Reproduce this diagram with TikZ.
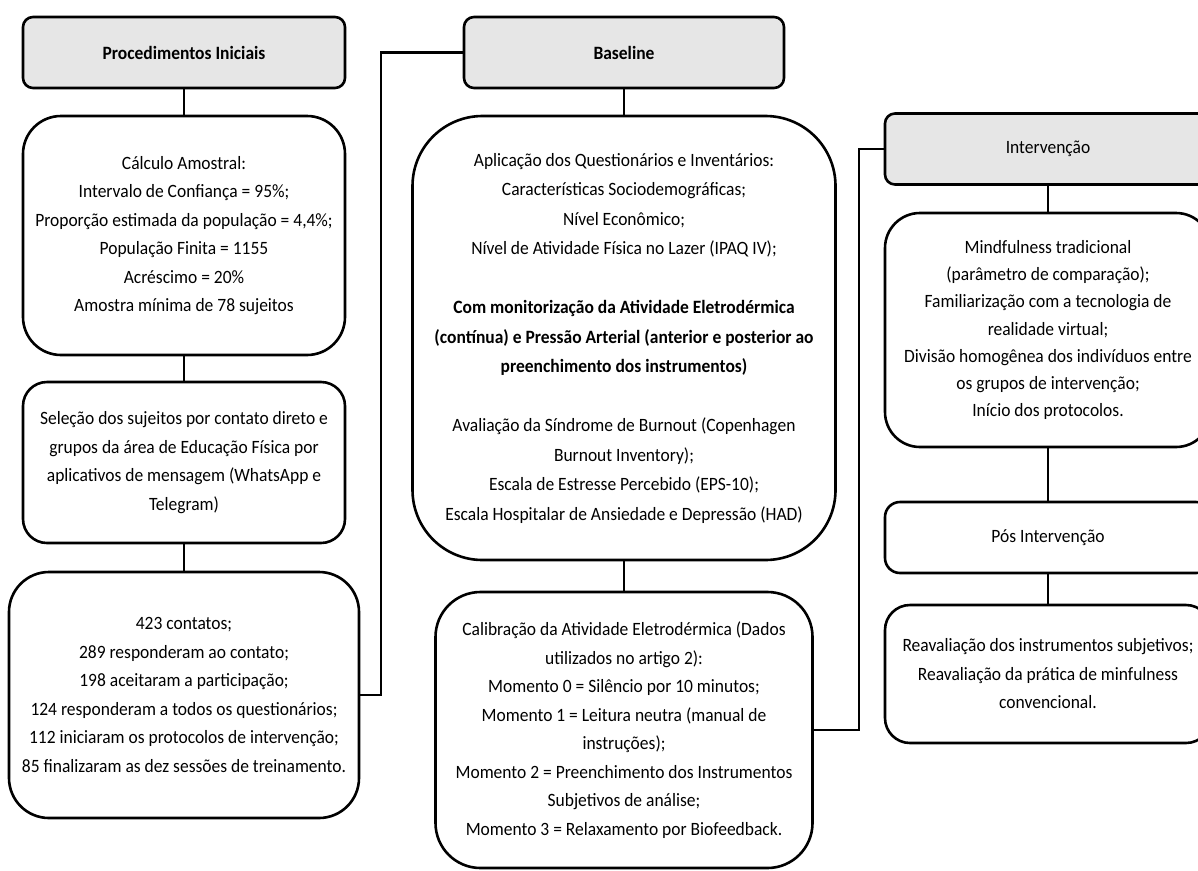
\documentclass[tikz,border=0pt]{standalone}
\usepackage{fontspec}
\setmainfont[FakeStretch=0.93]{Carlito}
\usepackage{tikz}

\definecolor{headgray}{HTML}{E6E6E6}

\begin{document}
\begin{tikzpicture}[x=1pt,y=-1pt]
\useasboundingbox (0,0) rectangle (1198,870);
\clip (0,0) rectangle (1198,870);

\begin{scope}[every node/.style={rectangle,draw,line width=2.6pt,fill=headgray,rounded corners=10pt,minimum height=71pt,inner sep=0pt,font=\fontsize{18.8}{28.5}\selectfont}]
	%Column 1
	\node[minimum width=322pt] (proc) at (184, 52.5) {\textbf{Procedimentos Iniciais}};
	
	%Column 2
	\node[minimum width=320pt] (base) at (624, 52.5) {\textbf{Baseline}};
	
	%Column 3
	\node[minimum width=326pt] (interv) at (1048, 149) {Intervenção};
\end{scope}

\begin{scope}[every node/.style={rectangle,draw,line width=2.6pt,fill=white,align=center,inner sep=0pt,font=\fontsize{18.8}{28.5}\selectfont}]
	%Column 1
	\node[minimum width=322pt,minimum height=239pt,rounded corners=38pt] (calc) at (184, 235.5) {Cálculo Amostral:\\Intervalo de Confiança = 95\%;\\Proporção estimada da população = 4,4\%;\\População Finita = 1155\\Acréscimo = 20\%\\Amostra mínima de 78 sujeitos};
	\node[minimum width=322pt,minimum height=161pt,rounded corners=24pt] (selec) at (184, 462.5) {Seleção dos sujeitos por contato direto e\\grupos da área de Educação Física por\\aplicativos de mensagem (WhatsApp e\\Telegram)};
	\node[minimum width=350pt,minimum height=246pt,rounded corners=40pt] (cont) at (184, 695) {423 contatos;\\289 responderam ao contato;\\198 aceitaram a participação;\\124 responderam a todos os questionários;\\112 iniciaram os protocolos de intervenção;\\85 finalizaram as dez sessões de treinamento.};
	
	%Column 2
	\node[minimum width=423pt,minimum height=444pt,rounded corners=70pt,font=\fontsize{18.8}{29.5}\selectfont] (aplic) at (624, 338) {Aplicação dos Questionários e Inventários:\\Características Sociodemográficas;\\Nível Econômico;\\Nível de Atividade Física no Lazer (IPAQ IV);\\[29.5pt]\textbf{Com monitorização da Atividade Eletrodérmica}\\\textbf{(contínua) e Pressão Arterial (anterior e posterior ao}\\\textbf{preenchimento dos instrumentos)}\\[29.5pt]Avaliação da Síndrome de Burnout (Copenhagen\\Burnout Inventory);\\Escala de Estresse Percebido (EPS-10);\\Escala Hospitalar de Ansiedade e Depressão (HAD)};
	\node[minimum width=377pt,minimum height=276pt,rounded corners=45pt] (calib) at (624, 730) {Calibração da Atividade Eletrodérmica (Dados\\utilizados no artigo 2):\\Momento 0 = Silêncio por 10 minutos;\\Momento 1 = Leitura neutra (manual de\\instruções);\\Momento 2 = Preenchimento dos Instrumentos\\Subjetivos de análise;\\Momento 3 = Relaxamento por Biofeedback.};
	
	%Column 3
	\node[minimum width=326pt,minimum height=234pt,rounded corners=35pt,font=\fontsize{18.8}{27.2}\selectfont] (mind) at (1048, 330) {Mindfulness tradicional\\(parâmetro de comparação);\\Familiarização com a tecnologia de\\realidade virtual;\\Divisão homogênea dos indivíduos entre\\os grupos de intervenção;\\Início dos protocolos.};
	\node[minimum width=326pt,minimum height=71pt,rounded corners=15pt] (pos) at (1048, 537.5) {Pós Intervenção};
	\node[minimum width=326pt,minimum height=138pt,rounded corners=25pt] (reav) at (1048, 674) {Reavaliação dos instrumentos subjetivos;\\Reavaliação da prática de minfulness\\convencional.};
\end{scope}

\coordinate (bend1) at (381, 52.5);
\coordinate (bend2) at (859, 149);

\begin{scope}[line width=2.6pt]
	%Column 1
	\path [-] (proc) edge node {} (calc);
	\path [-] (calc) edge node {} (selec);
	\path [-] (selec) edge node {} (cont);
	\draw (cont.east) -| (bend1) -- (base.west);
	
	%Column 2
	\path [-] (base) edge node {} (aplic);
	\path [-] (aplic) edge node {} (calib);
	\draw (calib.east) -| (bend2) -- (interv.west);
	
	%Column 3
	\path [-] (interv) edge node {} (mind);
	\path [-] (mind) edge node {} (pos);
	\path [-] (pos) edge node {} (reav);
\end{scope}

\end{tikzpicture}
\end{document}
